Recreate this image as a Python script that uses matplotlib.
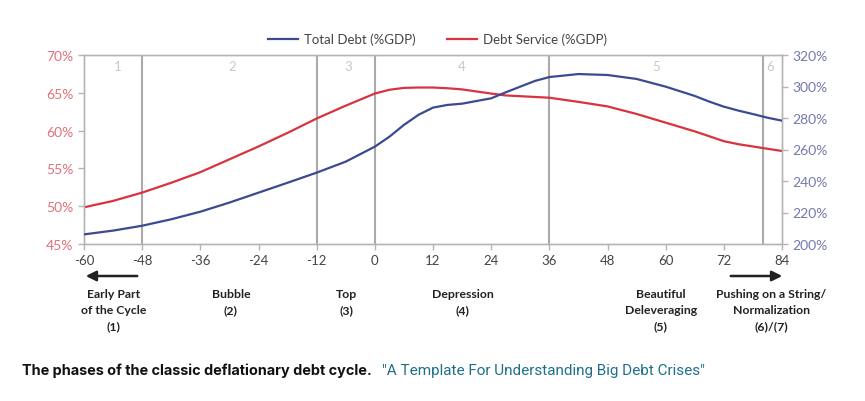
import matplotlib
matplotlib.use('Agg')
import matplotlib.pyplot as plt
import matplotlib.patches as mpatches

plt.rcParams['axes.unicode_minus'] = False
plt.rcParams['font.family'] = ['Lato', 'DejaVu Sans']

# months relative to the top of the cycle
months = [-60, -54, -48, -42, -36, -30, -24, -18, -12, -6, 0, 3, 6, 9, 12, 15, 18, 24, 27, 30, 33, 36, 42, 48, 54, 60, 66, 69, 72, 75, 78, 81, 84]
debt_service = [49.85, 50.7, 51.8, 53.1, 54.5, 56.2, 57.9, 59.7, 61.6, 63.3, 64.9, 65.4, 65.65, 65.7, 65.7, 65.6, 65.45, 64.9, 64.65, 64.55, 64.45, 64.35, 63.8, 63.2, 62.2, 61.05, 59.9, 59.25, 58.6, 58.2, 57.9, 57.6, 57.3]
total_debt = [206.1, 208.5, 211.6, 215.7, 220.5, 226.3, 232.6, 238.9, 245.3, 252.3, 261.8, 268.1, 275.6, 282.0, 286.6, 288.3, 289.1, 292.5, 296.3, 299.9, 303.5, 306.0, 307.9, 307.3, 304.8, 299.9, 294.0, 290.4, 287.2, 284.7, 282.5, 280.2, 278.3]

phase_bounds = [-48, -12, 0, 36, 80]
phase_nums = ['1', '2', '3', '4', '5', '6']
phase_num_x = [-53, -29.5, -5.5, 18, 58, 81.5]
phase_names = ['Early Part\nof the Cycle\n(1)', 'Bubble\n(2)', 'Top\n(3)', 'Depression\n(4)',
               'Beautiful\nDeleveraging\n(5)', 'Pushing on a String/\nNormalization\n(6)/(7)']
phase_name_px = [114, 231, 347, 463, 661, 771]

blue = '#3b4a91'
red = '#d9333f'
grey = '#b5b5b5'

fig = plt.figure(figsize=(8.65, 4.02), dpi=100)
ax = fig.add_axes([84/865, 1-245/402, 698/865, 189/402])
ax2 = ax.twinx()

ax.plot(months, debt_service, color=red, lw=1.6, label='Debt Service (%GDP)', zorder=3)
ax2.plot(months, total_debt, color=blue, lw=1.6, label='Total Debt (%GDP)', zorder=3)

for b in phase_bounds:
    ax.axvline(b, color='#aaaaaa', lw=1.5, zorder=1)
for n, x in zip(phase_nums, phase_num_x):
    ax.text(x, 68.6, n, color='#c8c8c8', ha='center', va='center', fontsize=9.5)

ax.set_xlim(-60, 84)
ax.set_ylim(45, 70)
ax2.set_ylim(200, 320)
ax.set_xticks(range(-60, 85, 12))
ax.set_yticks(range(45, 71, 5))
ax.set_yticklabels(['%d%%' % v for v in range(45, 71, 5)])
ax2.set_yticks(range(200, 321, 20))
ax2.set_yticklabels(['%d%%' % v for v in range(200, 321, 20)])

for a in (ax, ax2):
    for s in a.spines.values():
        s.set_color(grey)
        s.set_linewidth(1.0)
ax.tick_params(axis='x', colors=grey, labelcolor='#444444', labelsize=9.5, length=4, width=1)
ax.tick_params(axis='y', colors=grey, labelcolor='#e0707a', labelsize=10, length=4, width=1)
ax2.tick_params(axis='y', colors=grey, labelcolor='#7479ad', labelsize=10, length=4, width=1)

# legend
h2, l2 = ax2.get_legend_handles_labels()
h1, l1 = ax.get_legend_handles_labels()
fig.legend(h2 + h1, l2 + l1, loc='center left', bbox_to_anchor=(268/865, 1-40/402), ncol=2, frameon=False,
           fontsize=9.5, handlelength=2.3, handletextpad=0.4, columnspacing=2.4, labelcolor='#444444',
           borderpad=0, borderaxespad=0)

# phase names below the axis
for name, px in zip(phase_names, phase_name_px):
    fig.text(px/865, 1-289/402, name, ha='center', va='top', fontsize=8.8, fontweight='bold',
             color='#222222', linespacing=1.55)

fig.add_artist(mpatches.FancyArrowPatch((140/865, 1-277/402), (83/865, 1-277/402),
               transform=fig.transFigure, arrowstyle='-|>,head_length=6,head_width=3', color='#222222', lw=1.8))
fig.add_artist(mpatches.FancyArrowPatch((728/865, 1-277/402), (785/865, 1-277/402),
               transform=fig.transFigure, arrowstyle='-|>,head_length=6,head_width=3', color='#222222', lw=1.8))

# caption
fig.text(22/865, 1-371/402, 'The phases of the classic deflationary debt cycle.', ha='left', va='center',
         fontsize=10.4, fontweight='bold', family=['Inter', 'DejaVu Sans'], color='#111111')
fig.text(382/865, 1-371/402, '"A Template For Understanding Big Debt Crises"', ha='left', va='center',
         fontsize=11, family=['Roboto', 'DejaVu Sans'], color='#1f6f8b')

fig.savefig('out.png', dpi=100)
